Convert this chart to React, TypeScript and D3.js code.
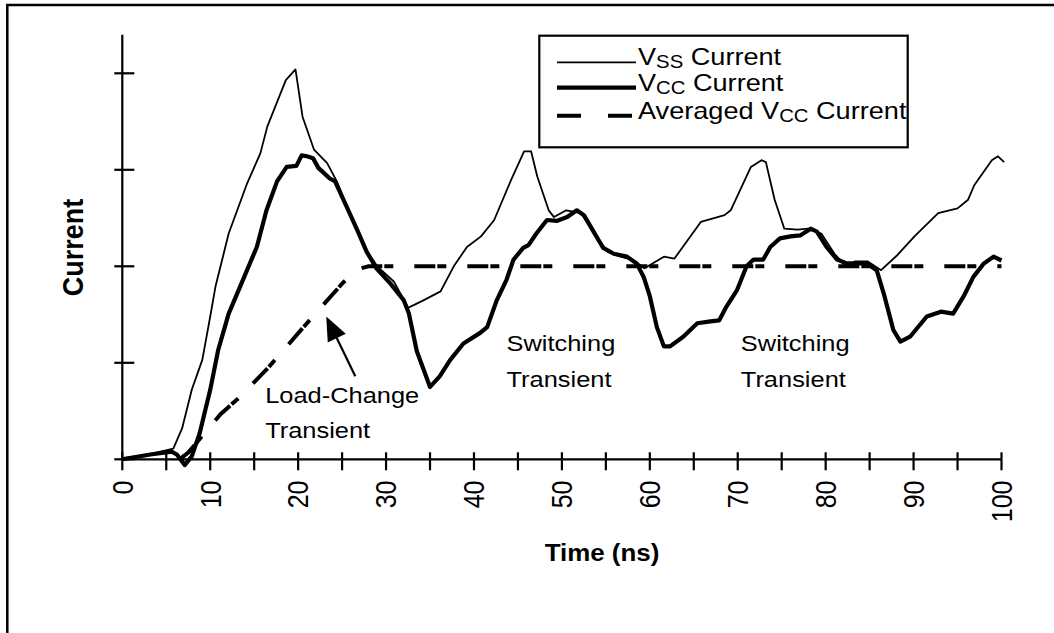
import * as d3 from 'd3'

// ---- data (time in ns, current in grid units) ----
const vssTime = [0, 3, 5.8, 6.8, 7.9, 9.1, 10, 10.6, 12.1, 14.2, 15.7, 16.5, 18.6, 19.7, 20.5, 21.8, 23.3, 24.4, 25.5, 26.7, 27.8, 29, 30.9, 32.5, 33.2, 34.3, 36.2, 37.7, 39.2, 40.8, 42.3, 44.2, 45.7, 46.5, 47.2, 48.5, 49.1, 50.5, 52.2, 53.7, 55.2, 56.7, 58.2, 59.4, 61.6, 62.8, 64.3, 65.8, 68.5, 69.2, 71.5, 72.7, 73.2, 74.2, 75.3, 76.8, 78, 79.5, 81, 82.3, 83.3, 84.8, 86.3, 88.2, 90.1, 92.8, 95, 96.2, 96.9, 98.9, 99.6, 100.3]
const vssCurrent = [0.01, 0.05, 0.11, 0.32, 0.72, 1.03, 1.48, 1.79, 2.34, 2.86, 3.17, 3.45, 3.93, 4.04, 3.55, 3.21, 3.07, 2.88, 2.63, 2.39, 2.16, 2.0, 1.84, 1.57, 1.6, 1.65, 1.74, 2.0, 2.2, 2.31, 2.48, 2.89, 3.19, 3.19, 2.93, 2.58, 2.51, 2.58, 2.55, 2.34, 2.15, 2.1, 2.06, 1.98, 2.1, 2.08, 2.27, 2.46, 2.53, 2.58, 3.03, 3.1, 3.08, 2.69, 2.39, 2.38, 2.39, 2.34, 2.13, 2.0, 2.05, 2.05, 1.96, 2.12, 2.31, 2.55, 2.6, 2.69, 2.84, 3.1, 3.14, 3.08]

const vccTime = [0, 3.2, 5.6, 6.2, 7.1, 7.9, 8.8, 10, 10.9, 12.1, 13.4, 15.3, 16.4, 17.6, 18.7, 19.8, 20.4, 21, 21.7, 22.3, 23.6, 24.2, 25.5, 26.7, 27.8, 28.9, 30.5, 32, 32.6, 33.5, 35, 36.1, 37.3, 38.8, 40.7, 41.5, 42.6, 43.7, 44.5, 45.6, 46.2, 47.1, 48.3, 49.4, 50.6, 51.7, 52.5, 53.6, 54.7, 55.9, 57.4, 58.5, 59.3, 60, 60.8, 61.6, 62.3, 63.8, 65.4, 66.9, 67.9, 68.7, 69.9, 71, 71.8, 72.9, 73.7, 74.8, 76, 77.1, 78.3, 79, 80.1, 81.3, 82.4, 84.7, 85.8, 86.6, 87.7, 88.5, 89.6, 91.5, 93.1, 94.5, 95.7, 96.8, 98, 99.1, 100]
const vccCurrent = [0, 0.05, 0.08, 0.05, -0.06, 0.03, 0.27, 0.72, 1.13, 1.51, 1.79, 2.2, 2.58, 2.88, 3.03, 3.04, 3.15, 3.14, 3.12, 3.02, 2.91, 2.88, 2.62, 2.38, 2.15, 1.98, 1.82, 1.65, 1.51, 1.12, 0.75, 0.86, 1.03, 1.2, 1.31, 1.37, 1.65, 1.86, 2.07, 2.19, 2.22, 2.34, 2.48, 2.47, 2.51, 2.58, 2.53, 2.36, 2.19, 2.13, 2.1, 2.03, 1.89, 1.69, 1.37, 1.17, 1.17, 1.27, 1.41, 1.43, 1.44, 1.58, 1.75, 2.0, 2.07, 2.07, 2.2, 2.29, 2.31, 2.32, 2.39, 2.36, 2.2, 2.07, 2.03, 2.03, 1.96, 1.72, 1.34, 1.22, 1.27, 1.48, 1.53, 1.51, 1.69, 1.89, 2.03, 2.1, 2.06]

const avgTime = [6.5, 7.5, 11.2, 13.3, 16.6, 20.9, 25.1, 26.8, 28, 100]
const avgCurrent = [0, 0.07, 0.47, 0.64, 0.95, 1.4, 1.83, 1.97, 2.0, 2.0]

const xTicks = d3.range(0, 101, 5)
const xTickLabels = ['0', '10', '20', '30', '40', '50', '60', '70', '80', '90', '100']
const yTicks = [0, 1, 2, 3, 4]

const legendLabels = [
  { pre: 'V', sub: 'SS', post: ' Current' },
  { pre: 'V', sub: 'CC', post: ' Current' },
  { pre: 'Averaged V', sub: 'CC', post: ' Current' },
]

// annotations in data units
const notes = [
  { t: 16.25, v: 0.58, text: 'Load-Change' },
  { t: 16.25, v: 0.22, text: 'Transient' },
  { t: 43.7, v: 1.125, text: 'Switching' },
  { t: 43.7, v: 0.745, text: 'Transient' },
  { t: 70.35, v: 1.125, text: 'Switching' },
  { t: 70.35, v: 0.745, text: 'Transient' },
]
const arrowFrom = { t: 26.5, v: 0.86 }
const arrowTo = { t: 23.2, v: 1.48 }

const W = 1054
const H = 633
const FONT = '"Liberation Sans", Arial, Helvetica, sans-serif'
const SX = 1.13 // the scan is a bit wide, text is stretched horizontally

const x = d3.scaleLinear().domain([0, 100]).range([122.3, 1001.5])
const y = d3.scaleLinear().domain([0, 4.4]).range([459.3, 34.7])

const zip = (a: number[], b: number[]) => a.map((t, i) => [t, b[i]] as [number, number])
const line = d3.line<[number, number]>().x(d => x(d[0])).y(d => y(d[1]))

function arrowHead(from: { t: number; v: number }, to: { t: number; v: number }) {
  const x0 = x(from.t), y0 = y(from.v), x1 = x(to.t), y1 = y(to.v)
  const len = Math.hypot(x1 - x0, y1 - y0)
  const ux = (x1 - x0) / len, uy = (y1 - y0) / len
  const bx = x1 - ux * 24, by = y1 - uy * 24
  const px = -uy * 10, py = ux * 10
  return {
    shaft: [x0, y0, bx, by],
    head: `${x1},${y1} ${bx + px},${by + py} ${bx - px},${by - py}`,
  }
}

export default function App() {
  const arrow = arrowHead(arrowFrom, arrowTo)
  const legendX = 539.3
  const legendY = 35.7
  const rows = [62.3, 87.7, 115.7]

  return (
    <div style={{ position: 'absolute', left: 0, top: 0, width: W, height: H, background: '#fff' }}>
      <svg width={W} height={H} style={{ display: 'block' }} fontFamily={FONT}>
        <rect x={0} y={0} width={W} height={H} fill="#fff" />
        {/* frame, runs off the right and bottom edge */}
        <rect x={7.3} y={5} width={W + 20} height={H + 20} fill="none" stroke="#000" strokeWidth={2.5} />

        {/* axes */}
        <line x1={x(0)} x2={x(0)} y1={y(4.4)} y2={y(0)} stroke="#000" strokeWidth={2.2} />
        <line x1={x(0)} x2={x(100)} y1={y(0)} y2={y(0)} stroke="#000" strokeWidth={2.2} />
        {yTicks.map(v => (
          <line key={'yt' + v} x1={x(0) - 8} x2={x(0) + 12} y1={y(v)} y2={y(v)} stroke="#000" strokeWidth={2.2} />
        ))}
        {xTicks.map(t => (
          <line key={'xt' + t} x1={x(t)} x2={x(t)} y1={y(0) - 7} y2={y(0) + 11} stroke="#000" strokeWidth={2.2} />
        ))}
        {xTickLabels.map(l => (
          <text key={'xl' + l} transform={`translate(${x(+l)},480.5) rotate(-90) scale(1,1.2)`}
            textAnchor="end" dominantBaseline="central" fontSize={25} fill="#000">{l}</text>
        ))}

        {/* axis titles */}
        <text transform={`translate(602,561) scale(1.08,1)`} textAnchor="middle" fontSize={24} fontWeight="bold">Time (ns)</text>
        <text transform={`translate(83,247.5) rotate(-90) scale(1,1.12)`} textAnchor="middle" fontSize={27} fontWeight="bold">Current</text>

        {/* series */}
        <path d={line(zip(avgTime, avgCurrent)) ?? ''} fill="none" stroke="#000" strokeWidth={4}
          strokeDasharray="21 2 9 21" />
        <path d={line(zip(vssTime, vssCurrent)) ?? ''} fill="none" stroke="#000" strokeWidth={1.8} strokeLinejoin="round" />
        <path d={line(zip(vccTime, vccCurrent)) ?? ''} fill="none" stroke="#000" strokeWidth={4.2} strokeLinejoin="round" />

        {/* annotations */}
        {notes.map((n, i) => (
          <text key={'n' + i} transform={`translate(${x(n.t)},${y(n.v)}) scale(${SX},1)`} fontSize={22.5} fill="#000">{n.text}</text>
        ))}
        <line x1={arrow.shaft[0]} y1={arrow.shaft[1]} x2={arrow.shaft[2]} y2={arrow.shaft[3]} stroke="#000" strokeWidth={2.2} />
        <polygon points={arrow.head} fill="#000" />

        {/* legend */}
        <rect x={legendX} y={legendY} width={368.4} height={111.6} fill="#fff" stroke="#000" strokeWidth={2.2} />
        <line x1={557} x2={636} y1={rows[0]} y2={rows[0]} stroke="#000" strokeWidth={1.8} />
        <line x1={557} x2={636} y1={rows[1]} y2={rows[1]} stroke="#000" strokeWidth={4.2} />
        <line x1={557} x2={636} y1={rows[2]} y2={rows[2]} stroke="#000" strokeWidth={4} strokeDasharray="24 27" />
        {legendLabels.map((l, i) => (
          <text key={'lg' + i} transform={`translate(638,${rows[i] + 3}) scale(${SX},1)`} fontSize={24} fill="#000">
            {l.pre}
            <tspan fontSize={18} dy={3}>{l.sub}</tspan>
            <tspan dy={-3}>{l.post}</tspan>
          </text>
        ))}
      </svg>
    </div>
  )
}
